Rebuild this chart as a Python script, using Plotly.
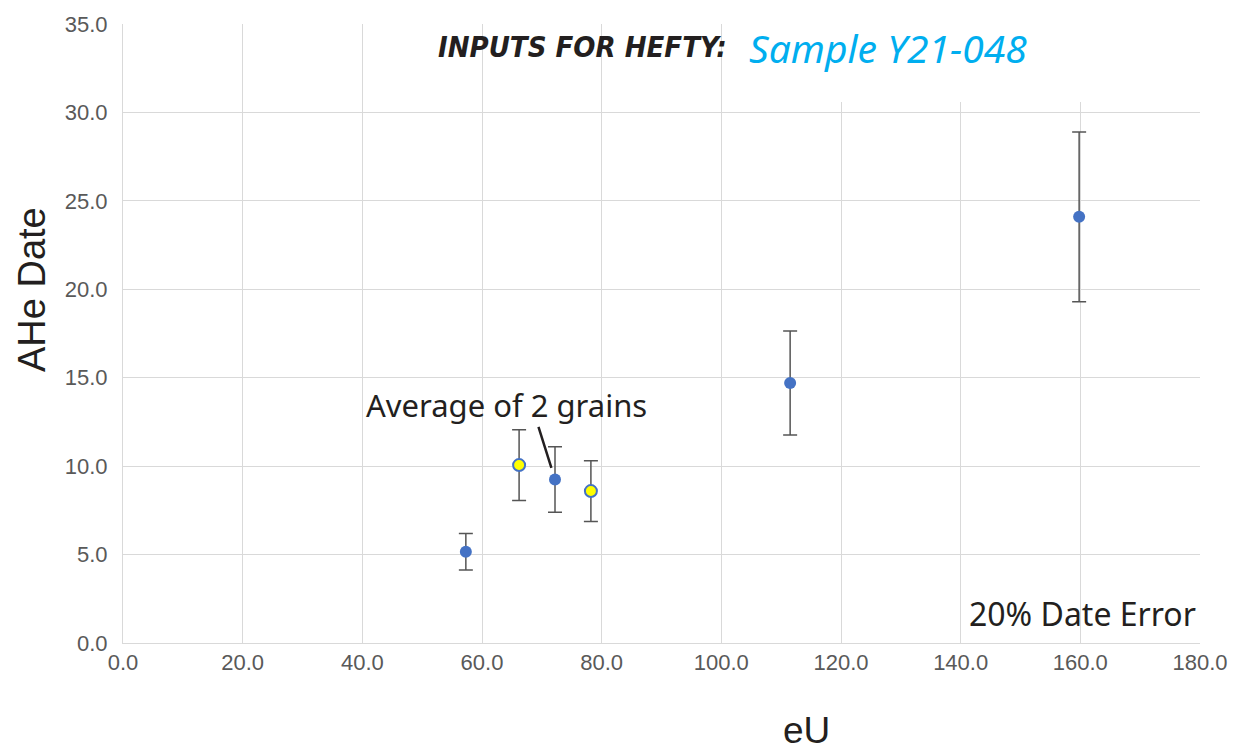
import plotly.graph_objects as go

# Data
eu_blue = [57.3, 72.2, 111.5, 159.8]
date_blue = [5.16, 9.25, 14.7, 24.1]
err_blue = [1.03, 1.85, 2.94, 4.8]

eu_yellow = [66.2, 78.2]
date_yellow = [10.06, 8.59]
err_yellow = [2.0, 1.72]

x_ticks = [0, 20, 40, 60, 80, 100, 120, 140, 160, 180]
y_ticks = [0, 5, 10, 15, 20, 25, 30, 35]

BLUE = "#4472C4"
GRID = "#D9D9D9"
TICK = "#595959"
ERR = "#555555"

fig = go.Figure()

fig.add_trace(go.Scatter(
    x=eu_blue, y=date_blue, mode="markers",
    marker=dict(color=BLUE, size=12, line=dict(width=0)),
    error_y=dict(type="data", array=err_blue, visible=True,
                 color=ERR, thickness=1.5, width=7),
    showlegend=False, hoverinfo="x+y",
))
fig.add_trace(go.Scatter(
    x=eu_yellow, y=date_yellow, mode="markers",
    marker=dict(color="#FFFF00", size=12, line=dict(width=2, color=BLUE)),
    error_y=dict(type="data", array=err_yellow, visible=True,
                 color=ERR, thickness=1.5, width=7),
    showlegend=False, hoverinfo="x+y",
))

fig.update_xaxes(
    range=[0, 180], tickvals=x_ticks,
    ticktext=[f"{v:.1f}" for v in x_ticks],
    showgrid=True, gridcolor=GRID, gridwidth=1,
    showline=True, linecolor=GRID, linewidth=1, mirror=False,
    zeroline=False, ticks="",
    tickfont=dict(family="Liberation Sans, Arial, sans-serif", size=22, color=TICK),
)
fig.update_yaxes(
    range=[0, 35], tickvals=y_ticks,
    ticktext=[f"{v:.1f}" for v in y_ticks],
    showgrid=True, gridcolor=GRID, gridwidth=1,
    showline=True, linecolor=GRID, linewidth=1,
    zeroline=False, ticks="",
    tickfont=dict(family="Liberation Sans, Arial, sans-serif", size=22, color=TICK),
    ticklabelstandoff=10,
)

# white box behind the title area
fig.add_shape(type="rect", xref="paper", yref="paper",
              x0=0.5617, x1=0.9053, y0=0.874, y1=1.05,
              fillcolor="white", line=dict(width=0), layer="above")

annotations = [
    dict(text="<b><i>INPUTS FOR HEFTY:</i></b>", xref="paper", yref="paper",
         x=(729 - 123) / 1077, y=(643 - 47) / 619, xanchor="right", yanchor="middle",
         showarrow=False,
         font=dict(family="DejaVu Sans Condensed, Liberation Sans Narrow, sans-serif",
                   size=29, color="#231F20")),
    dict(text="<i>Sample Y21-048</i>", xref="paper", yref="paper",
         x=(747 - 123) / 1077, y=(643 - 47) / 619, xanchor="left", yanchor="middle",
         showarrow=False,
         font=dict(family="Noto Sans, sans-serif", size=39, color="#00AEEF")),
    dict(text="Average of 2 grains", xref="paper", yref="paper",
         x=(506 - 123) / 1077, y=(643 - 405) / 619, xanchor="center", yanchor="middle",
         showarrow=False,
         font=dict(family="Noto Sans, sans-serif", size=31, color="#231F20")),
    dict(text="", x=eu_blue[1], y=date_blue[1], ax=-17, ay=-54,
         showarrow=True, arrowhead=0, arrowwidth=2.5, arrowcolor="#231F20", standoff=12),
    dict(text="20% Date Error", xref="paper", yref="paper",
         x=(1198 - 123) / 1077, y=(643 - 613) / 619, xanchor="right", yanchor="middle",
         showarrow=False,
         font=dict(family="Noto Sans, sans-serif", size=32, color="#231F20")),
    dict(text="AHe Date", xref="paper", yref="paper",
         x=(32 - 123) / 1077, y=(643 - 290) / 619, xanchor="center", yanchor="middle",
         textangle=-90, showarrow=False,
         font=dict(family="Liberation Sans, Arial, sans-serif", size=38, color="#231F20")),
    dict(text="eU", xref="paper", yref="paper",
         x=(806 - 123) / 1077, y=(643 - 730) / 619, xanchor="center", yanchor="middle",
         showarrow=False,
         font=dict(family="Liberation Sans, Arial, sans-serif", size=37, color="#231F20")),
]

fig.update_layout(
    width=1241, height=750,
    margin=dict(l=123, r=41, t=24, b=107),
    paper_bgcolor="white", plot_bgcolor="white",
    annotations=annotations,
    showlegend=False,
)

fig.write_html("out.html")
